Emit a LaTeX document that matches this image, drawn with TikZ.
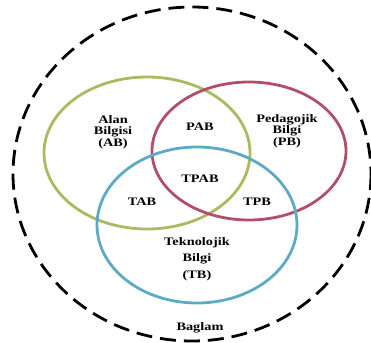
\documentclass[tikz,border=0pt]{standalone}
\usepackage{fontspec}
\setmainfont{Liberation Serif}
\newfontfamily\lblfont[FakeStretch=1.25]{Liberation Serif}
\definecolor{abgreen}{RGB}{170,186,96}
\definecolor{pbred}{RGB}{178,78,104}
\definecolor{tbblue}{RGB}{92,170,196}
\tikzset{
  set/.style={line width=2.8bp},
  lbl/.style={inner sep=0pt, align=center, font=\lblfont\bfseries\fontsize{11.5}{11.5}\selectfont}
}
\begin{document}
\begin{tikzpicture}[x=1bp,y=-1bp]
\useasboundingbox (0,0) rectangle (371,343);
% context
\draw [line width=2.8bp, dash pattern=on 16bp off 8bp] (192,174) ellipse (179 and 167);
% knowledge sets
\draw [set, abgreen] (147,153) ellipse (103 and 76);
\draw [set, pbred] (249,151) ellipse (97 and 69);
\draw [set, tbblue] (197,225) ellipse (100 and 78);
% labels
\node [lbl] (ab) at (113,132) {Alan\\Bilgisi\\(AB)};
\node [lbl] (pb) at (287,131) {Pedagojik\\Bilgi\\(PB)};
\node [lbl, font=\lblfont\bfseries\fontsize{11.5}{16.5}\selectfont] (tb) at (197,259) {Teknolojik\\Bilgi\\(TB)};
\node [lbl] (pab) at (200,127) {PAB};
\node [lbl] (tpab) at (200,179) {TPAB};
\node [lbl] (tab) at (142,202) {TAB};
\node [lbl] (tpb) at (257,202) {TPB};
\node [lbl] (baglam) at (200,328) {Baglam};
\end{tikzpicture}
\end{document}
